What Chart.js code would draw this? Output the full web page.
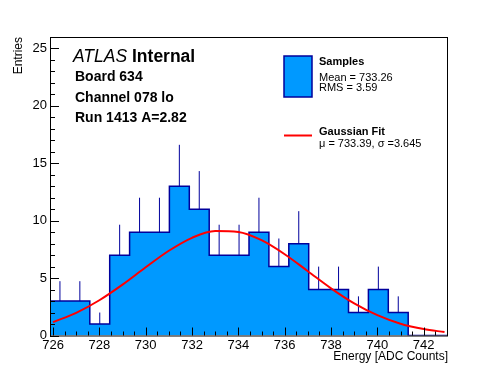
<!DOCTYPE html>
<html lang="en">
<head>
    <meta charset="UTF-8">
    <title>Board 634 Channel 078 lo</title>
    <style>
        body {
            margin: 0;
            background: #ffffff;
        }
        #wrap {
            position: relative;
            width: 498px;
            height: 374px;
        }
    </style>
</head>
<body>
    <div id="wrap"><canvas id="hist"></canvas></div>

    <script src="https://cdn.jsdelivr.net/npm/chart.js"></script>
    <script>
        // histogram binning (20 bins over the axis range)
        const xLow = 725.87;
        const xHigh = 743.05;
        const binWidth = 0.859;

        // entries per bin
        const counts = [3, 3, 1, 7, 9, 9, 13, 11, 7, 7, 9, 6, 8, 4, 4, 2, 4, 2, 0, 0];
        // upward error bar length per bin
        const errors = [1.73, 1.73, 1.0, 2.65, 3.0, 3.0, 3.61, 3.32, 2.65, 2.65, 3.0, 2.45, 2.83, 2.0, 2.0, 1.41, 2.0, 1.41, 0, 0];

        // gaussian fit curve, read at each count
        const fitX = [726, 727, 728, 729, 730, 731, 732, 733, 734, 735, 736, 737, 738, 739, 740, 741, 742, 742.9];
        const fitY = [1.17, 1.97, 3.07, 4.43, 5.94, 7.38, 8.51, 9.10, 9.02, 8.30, 7.08, 5.60, 4.11, 2.80, 1.77, 1.03, 0.56, 0.30];

        const xTicks = [726, 728, 730, 732, 734, 736, 738, 740, 742];
        const yTicks = [0, 5, 10, 15, 20, 25];

        const infoLines = ['Board 634', 'Channel 078 lo', 'Run 1413 A=2.82'];
        const sampleLines = ['Mean = 733.26', 'RMS = 3.59'];
        const fitLine = 'μ = 733.39, σ =3.645';

        const FONT = '"Liberation Sans", Arial, Helvetica, sans-serif';
        const FILL = '#0099ff';
        const EDGE = '#00009c';

        // step outline points at the left edge of every bin
        const histPoints = counts.map((c, i) => ({ x: xLow + i * binWidth, y: c }));
        histPoints.push({ x: xLow + counts.length * binWidth, y: 0 });

        // error bars as separate segments
        const errPoints = [];
        counts.forEach((c, i) => {
            if (errors[i] <= 0) return;
            const xc = xLow + (i + 0.5) * binWidth;
            errPoints.push({ x: xc, y: c }, { x: xc, y: c + errors[i] }, { x: xc, y: null });
        });

        const fitPoints = fitX.map((x, i) => ({ x: x, y: fitY[i] }));

        const rootFrame = {
            id: 'rootFrame',
            afterDatasetsDraw(chart) {
                const ctx = chart.ctx;
                const a = chart.chartArea;
                const xs = chart.scales.x;
                const ys = chart.scales.y;
                ctx.save();
                ctx.strokeStyle = '#000';
                ctx.lineWidth = 1;
                ctx.strokeRect(a.left + 0.5, a.top + 0.5, a.right - a.left - 1, a.bottom - a.top);
                ctx.beginPath();
                // x ticks, every half count, pointing inward
                for (let v = 726; v <= 743; v += 0.5) {
                    const px = Math.round(xs.getPixelForValue(v)) + 0.5;
                    const len = (v % 2 === 0) ? 8 : 4;
                    ctx.moveTo(px, a.bottom);
                    ctx.lineTo(px, a.bottom - len);
                }
                // y ticks, every entry
                for (let v = 0; v <= 26; v += 1) {
                    const py = Math.round(ys.getPixelForValue(v)) + 0.5;
                    const len = (v % 5 === 0) ? 9 : 5;
                    ctx.moveTo(a.left, py);
                    ctx.lineTo(a.left + len, py);
                }
                ctx.stroke();
                ctx.restore();
            },
            afterDraw(chart) {
                const ctx = chart.ctx;
                const a = chart.chartArea;
                ctx.save();
                ctx.fillStyle = '#000';
                ctx.textBaseline = 'alphabetic';

                // ATLAS label
                ctx.font = 'italic 17.5px ' + FONT;
                ctx.fillText('ATLAS', 73, 62);
                const w = ctx.measureText('ATLAS ').width;
                ctx.font = 'bold 17.5px ' + FONT;
                ctx.fillText('Internal', 73 + w, 62);
                ctx.font = 'bold 14px ' + FONT;
                infoLines.forEach((t, i) => ctx.fillText(t, 75, 81 + i * 20.7));

                // legend
                ctx.fillStyle = FILL;
                ctx.fillRect(284, 56, 28, 41);
                ctx.strokeStyle = EDGE;
                ctx.lineWidth = 1.5;
                ctx.strokeRect(284, 56, 28, 41);
                ctx.strokeStyle = '#ff0000';
                ctx.lineWidth = 2;
                ctx.beginPath();
                ctx.moveTo(284, 135.5);
                ctx.lineTo(312, 135.5);
                ctx.stroke();

                ctx.fillStyle = '#000';
                ctx.font = 'bold 11px ' + FONT;
                ctx.fillText('Samples', 319, 65);
                ctx.fillText('Gaussian Fit', 319, 135);
                ctx.font = '11px ' + FONT;
                ctx.fillText(sampleLines[0], 319, 80.5);
                ctx.fillText(sampleLines[1], 319, 91);
                ctx.fillText(fitLine, 319, 146.5);

                // axis titles
                ctx.font = '12px ' + FONT;
                ctx.textAlign = 'right';
                ctx.fillText('Energy [ADC Counts]', a.right, 360);
                ctx.translate(19, a.top);
                ctx.rotate(-Math.PI / 2);
                ctx.textBaseline = 'middle';
                ctx.fillText('Entries', 0, 0);
                ctx.restore();
            }
        };

        new Chart(document.getElementById('hist'), {
            type: 'line',
            data: {
                datasets: [
                    {
                        label: 'Gaussian Fit',
                        data: fitPoints,
                        borderColor: '#ff0000',
                        borderWidth: 2,
                        pointRadius: 0,
                        cubicInterpolationMode: 'monotone',
                        fill: false,
                        order: 0
                    },
                    {
                        label: 'errors',
                        data: errPoints,
                        borderColor: EDGE,
                        borderWidth: 1,
                        pointRadius: 0,
                        spanGaps: false,
                        fill: false,
                        order: 1
                    },
                    {
                        label: 'Samples',
                        data: histPoints,
                        stepped: 'before',
                        borderColor: EDGE,
                        borderWidth: 1.5,
                        backgroundColor: FILL,
                        pointRadius: 0,
                        fill: 'origin',
                        order: 2
                    }
                ]
            },
            options: {
                responsive: true,
                maintainAspectRatio: false,
                animation: false,
                layout: { padding: { left: 10, right: 50, top: 37, bottom: 0 } },
                plugins: {
                    legend: { display: false },
                    tooltip: { enabled: false }
                },
                scales: {
                    x: {
                        type: 'linear',
                        min: xLow,
                        max: xHigh,
                        grid: { display: false, drawTicks: false },
                        border: { display: false },
                        afterBuildTicks: (s) => { s.ticks = xTicks.map(v => ({ value: v })); },
                        afterFit: (s) => { s.height = 38.5; },
                        ticks: {
                            color: '#000',
                            font: { family: FONT, size: 13 },
                            padding: 2,
                            maxRotation: 0,
                            autoSkip: false
                        }
                    },
                    y: {
                        min: 0,
                        max: 26,
                        grid: { display: false, drawTicks: false },
                        border: { display: false },
                        afterBuildTicks: (s) => { s.ticks = yTicks.map(v => ({ value: v })); },
                        afterFit: (s) => { s.width = 40; },
                        ticks: {
                            color: '#000',
                            font: { family: FONT, size: 13 },
                            padding: 3
                        }
                    }
                }
            },
            plugins: [rootFrame]
        });
    </script>
</body>
</html>
